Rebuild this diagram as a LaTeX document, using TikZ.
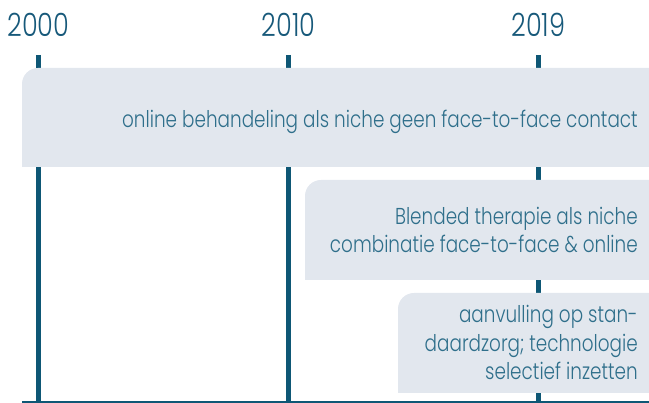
\documentclass[tikz,border=0pt]{standalone}
\usepackage{fontspec}
\setmainfont{Poppins}[UprightFont=* Light, FakeStretch=0.8]
\usetikzlibrary{positioning}

\definecolor{lijn}{HTML}{0E5775}
\definecolor{jaar}{HTML}{17597A}
\definecolor{tekst}{HTML}{2F6F8B}
\definecolor{vlak}{HTML}{E2E7EE}

\begin{document}
\begin{tikzpicture}[
  x=1pt, y=-1pt,
  jaar/.style={font=\fontsize{32}{32}\selectfont, text=jaar, inner sep=0pt, anchor=base},
  jaarlijn/.style={draw=lijn, line width=5pt},
  aslijn/.style={draw=lijn, line width=2pt},
  fase/.style={fill=vlak},
  % base = basislijn van de laatste regel
  fasetekst/.style={font=\fontsize{23}{28.5}\selectfont, text=tekst, align=right, anchor=base east, inner sep=0pt}
]
\useasboundingbox (0,0) rectangle (649,403);

% jaartallen
\node[jaar] (j2000) at (38.5,37) {2000};
\node[jaar] (j2010) at (288.5,37) {2010};
\node[jaar] (j2019) at (538.5,37) {2019};

% tijdlijn
\coordinate (asL) at (22,402);
\coordinate (asR) at (649,402);
\draw[aslijn] (asL) -- (asR);
\foreach \j in {2000,2010,2019}
  \draw[jaarlijn] (j\j.base |- 0,55) -- (j\j.base |- asL);

% fasen, alleen hoek linksboven rond
\foreach \l/\t/\b in {22/68/167, 305/180/280, 398/293/393}
  \fill[fase] (\l,\b) -- (\l,\t+16) arc[start angle=180, end angle=270, radius=16] -- (649,\t) -- (649,\b) -- cycle;

\node[fasetekst] (fase1) at (638,128) {online behandeling als niche geen face-to-face contact};
\node[fasetekst] (fase2) at (638,253) {Blended therapie als niche\\combinatie face-to-face \& online};
\node[fasetekst] (fase3) at (638,380) {aanvulling op stan-\\daardzorg; technologie\\selectief inzetten};
\end{tikzpicture}
\end{document}
